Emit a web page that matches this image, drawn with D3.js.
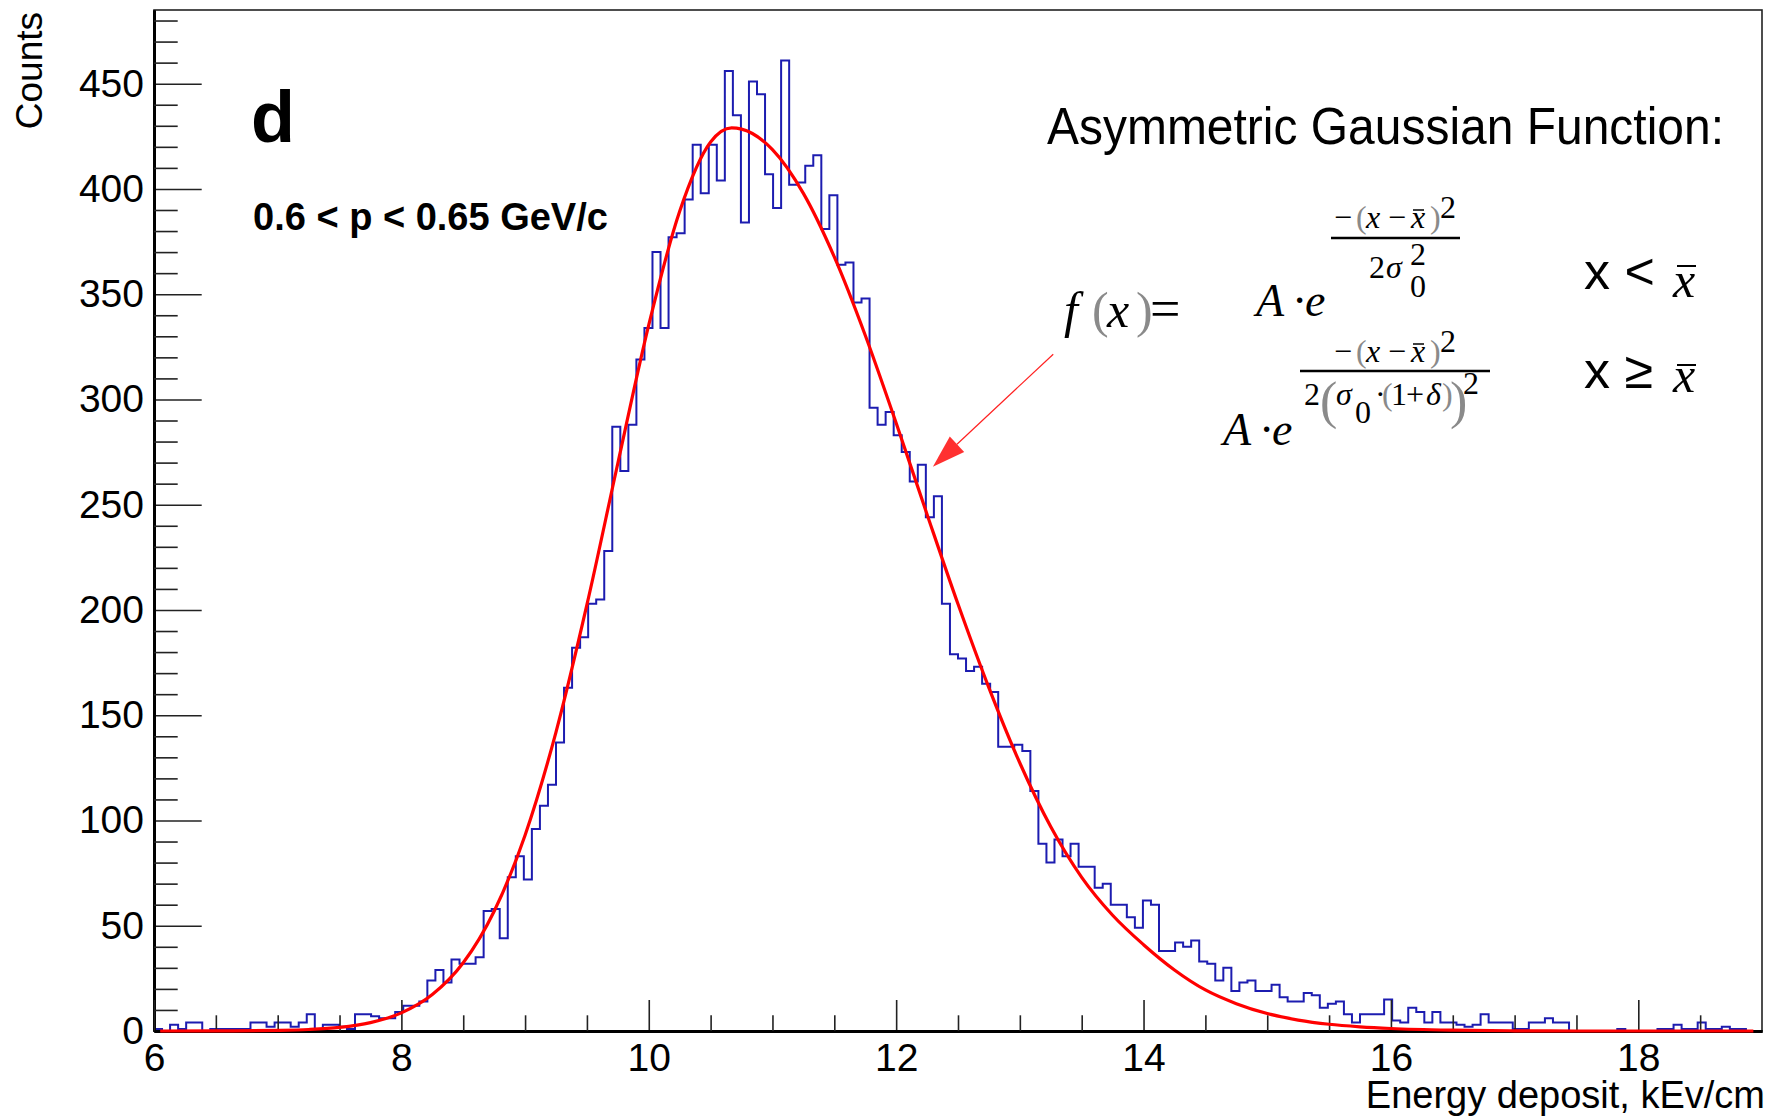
<!DOCTYPE html>
<html>
<head>
<meta charset="utf-8">
<script src="https://cdn.jsdelivr.net/npm/d3@7"></script>
<style>
  body { margin: 0; background: #fff; }
  svg { display: block; font-family: "Liberation Sans", Arial, sans-serif; }
</style>
</head>
<body>
<svg id="chart" width="1773" height="1118"></svg>
<script>
// histogram: 200 bins of 0.065 from 6 to 19
const binStart = 6;
const binWidth = 0.065;
const binCounts = [
  1, 0, 3, 1, 4, 4, 0, 1, 1, 1,
  1, 1, 4, 4, 2, 4, 4, 2, 4, 8,
  1, 3, 3, 2, 1, 8, 8, 7, 6, 6,
  9, 12, 12, 14, 24, 29, 23, 34, 32, 32,
  35, 57, 58, 44, 73, 83, 72, 96, 107, 117,
  137, 163, 182, 187, 203, 205, 228, 287, 266, 288,
  319, 334, 370, 334, 377, 379, 395, 421, 398, 421,
  404, 456, 435, 384, 451, 445, 407, 391, 461, 402,
  403, 411, 416, 381, 397, 364, 365, 346, 348, 296,
  288, 294, 283, 275, 261, 269, 244, 254, 203, 179,
  177, 171, 173, 165, 161, 135, 135, 136, 133, 114,
  89, 80, 91, 83, 89, 78, 78, 68, 70, 60,
  60, 54, 49, 62, 60, 38, 38, 42, 40, 43,
  33, 32, 24, 30, 19, 23, 24, 19, 19, 22,
  16, 14, 14, 18, 17, 11, 13, 14, 8, 4,
  8, 8, 8, 15, 5, 4, 11, 9, 4, 9,
  4, 4, 3, 2, 3, 8, 4, 4, 4, 1,
  1, 4, 4, 6, 4, 4, 0, 0, 0, 0,
  0, 0, 1, 0, 0, 0, 0, 1, 1, 3,
  1, 1, 4, 1, 1, 2, 1, 1, 0, 0
];

// fitted asymmetric gaussian
const fitX = [6.05, 6.5, 7.0, 7.25, 7.5, 7.75, 8.0, 8.25, 8.5, 8.75,
  9.0, 9.25, 9.5, 9.75, 10.0, 10.25, 10.5, 10.67, 10.75, 11.0,
  11.25, 11.5, 11.75, 12.0, 12.25, 12.5, 12.75, 13.0, 13.25, 13.5,
  13.75, 14.0, 14.25, 14.5, 14.75, 15.0, 15.25, 15.5, 15.75, 16.0,
  16.5, 17.0, 17.5, 18.0, 18.93];
const fitY = [0, 0.03, 0.3, 0.7, 1.7, 4.0, 8.6, 17.3, 32.4, 56.9,
  93, 142, 202.5, 269.7, 335.4, 389.4, 422.3, 429, 428.4, 418.7,
  397.9, 367.7, 330.5, 288.8, 245.4, 202.8, 163, 127.3, 97, 73,
  55, 41, 29, 19.5, 13, 8.3, 5.2, 3.2, 2, 1.2,
  0.4, 0.1, 0, 0, 0];

const xTickLabels = [6, 8, 10, 12, 14, 16, 18];
const yTickLabels = [0, 50, 100, 150, 200, 250, 300, 350, 400, 450];
const xDomain = [6, 19];
const yDomain = [0, 485];

// arrow annotation, in data units
const arrowTail = [13.27, 321.5];
const arrowTip = [12.297, 268];

const svg = d3.select("#chart");
svg.append("rect").attr("width", 1773).attr("height", 1118).attr("fill", "#fff");

const padL = 154, padR = 1762, padT = 10, padB = 1031;

const x = d3.scaleLinear().domain(xDomain).range([padL, padR]);
const y = d3.scaleLinear().domain(yDomain).range([padB, padT]);

//=== frame ===
svg.append("rect")
  .attr("x", padL).attr("y", padT)
  .attr("width", padR - padL).attr("height", padB - padT)
  .attr("fill", "none").attr("stroke", "#222").attr("stroke-width", 1.6);

//=== histogram ===
const steps = [[binStart, 0]];
binCounts.forEach((c, i) => steps.push([binStart + i * binWidth, c]));
steps.push([xDomain[1], binCounts[binCounts.length - 1]]);
steps.push([xDomain[1], 0]);

svg.append("path")
  .datum(steps)
  .attr("fill", "none")
  .attr("stroke", "#1c1cb0")
  .attr("stroke-width", 2)
  .attr("d", d3.line().x(d => x(d[0])).y(d => y(d[1])).curve(d3.curveStepAfter));

//=== axes ===
const axisFont = 39;

const yMajor = svg.append("g")
  .attr("transform", `translate(${padL},0)`)
  .call(d3.axisLeft(y).tickValues(yTickLabels).tickSize(-47.7).tickSizeOuter(0)
    .tickPadding(10).tickFormat(d3.format("d")));
const yMinor = svg.append("g")
  .attr("transform", `translate(${padL},0)`)
  .call(d3.axisLeft(y).tickValues(d3.range(0, 481, 10).filter(v => v % 50))
    .tickSize(-23.7).tickSizeOuter(0).tickFormat(""));

const xMajor = svg.append("g")
  .attr("transform", `translate(0,${padB})`)
  .call(d3.axisBottom(x).tickValues(xTickLabels).tickSize(-31).tickSizeOuter(0)
    .tickPadding(12).tickFormat(d3.format("d")));
const xMinor = svg.append("g")
  .attr("transform", `translate(0,${padB})`)
  .call(d3.axisBottom(x).tickValues(d3.range(6.5, 19, 0.5).filter(v => v % 2))
    .tickSize(-15.7).tickSizeOuter(0).tickFormat(""));

[yMajor, yMinor, xMajor, xMinor].forEach(g => {
  g.selectAll(".domain").attr("stroke", "#000").attr("stroke-width", 3);
  g.selectAll(".tick line").attr("stroke", "#222").attr("stroke-width", 1.6);
  g.selectAll("text").attr("font-size", axisFont)
    .attr("font-family", "Liberation Sans, Arial, sans-serif").attr("fill", "#000");
});
[yMinor, xMinor].forEach(g => g.selectAll("text").remove());

//=== fit ===
svg.append("path")
  .datum(fitX.map((v, i) => [v, fitY[i]]))
  .attr("fill", "none")
  .attr("stroke", "#ff0000")
  .attr("stroke-width", 3.2)
  .attr("d", d3.line().x(d => x(d[0])).y(d => y(d[1])).curve(d3.curveMonotoneX));

//=== axis titles ===
svg.append("text")
  .attr("transform", "translate(42,12) rotate(-90)")
  .attr("text-anchor", "end")
  .attr("font-size", 37)
  .text("Counts");

svg.append("text")
  .attr("x", 1765).attr("y", 1108)
  .attr("text-anchor", "end")
  .attr("font-size", 38)
  .text("Energy deposit, kEv/cm");

//=== labels ===
svg.append("text")
  .attr("x", 251).attr("y", 142)
  .attr("font-size", 72).attr("font-weight", "bold")
  .text("d");

svg.append("text")
  .attr("x", 253).attr("y", 230)
  .attr("font-size", 38).attr("font-weight", "bold")
  .text("0.6 < p < 0.65 GeV/c");

svg.append("text")
  .attr("x", 1047).attr("y", 144)
  .attr("font-size", 52)
  .attr("textLength", 677)
  .attr("lengthAdjust", "spacingAndGlyphs")
  .text("Asymmetric Gaussian Function:");

//=== formula ===
const serif = "Liberation Serif, Times New Roman, serif";
function put(str, px, py, size, opts = {}) {
  svg.append("text")
    .attr("x", px).attr("y", py)
    .attr("font-family", opts.sans ? "Liberation Sans, Arial, sans-serif" : serif)
    .attr("font-size", size)
    .attr("font-style", opts.italic ? "italic" : "normal")
    .attr("fill", opts.fill || "#000")
    .text(str);
}
function bar(x1, x2, yy, w) {
  svg.append("line").attr("x1", x1).attr("x2", x2).attr("y1", yy).attr("y2", yy)
    .attr("stroke", "#000").attr("stroke-width", w || 2);
}
const grey = "#8a8a8a";

// f(x) =
put("f", 1064, 327, 50, { italic: true });
put("(", 1092, 327, 50, { fill: grey });
put("x", 1107, 327, 50, { italic: true });
put(")", 1136, 327, 50, { fill: grey });
put("=", 1150, 327, 54);

// numerator, both rows
function numerator(baseY) {
  put("\u2212", 1334, baseY, 32);
  put("(", 1356, baseY, 32, { fill: grey });
  put("x", 1366, baseY, 32, { italic: true });
  put("\u2212", 1388, baseY, 32);
  put("x", 1411, baseY, 32, { italic: true });
  bar(1413, 1424, baseY - 18, 1.5);
  put(")", 1430, baseY, 32, { fill: grey });
  put("2", 1440, baseY - 10, 32);
}

// row 1
put("A", 1256, 316, 46, { italic: true });
put("\u00b7", 1292, 316, 46);
put("e", 1305, 316, 46, { italic: true });
numerator(228);
bar(1331, 1460, 238, 2.4);
put("2", 1369, 278, 32);
put("\u03c3", 1386, 278, 32, { italic: true });
put("2", 1410, 265, 32);
put("0", 1410, 297, 32);
put("x <", 1584, 289, 52, { sans: true });
put("x", 1673, 297, 50, { italic: true });
bar(1677, 1696, 266, 2);

// row 2
put("A", 1223, 445, 46, { italic: true });
put("\u00b7", 1259, 445, 46);
put("e", 1272, 445, 46, { italic: true });
numerator(362);
bar(1300, 1490, 371, 2.4);
put("2", 1304, 405, 32);
put("(", 1320, 418, 52, { fill: grey });
put("\u03c3", 1336, 405, 32, { italic: true });
put("0", 1355, 423, 32);
put("\u00b7", 1375, 405, 32);
put("(", 1382, 405, 32, { fill: grey });
put("1", 1391, 405, 32);
put("+", 1406, 405, 32);
put("\u03b4", 1426, 405, 32, { italic: true });
put(")", 1442, 405, 32, { fill: grey });
put(")", 1450, 418, 52, { fill: grey });
put("2", 1463, 394, 32);
put("x \u2265", 1584, 388, 52, { sans: true });
put("x", 1673, 392, 50, { italic: true });
bar(1677, 1696, 365, 2);

//=== arrow ===
const tipX = x(arrowTip[0]), tipY = y(arrowTip[1]);
const tailX = x(arrowTail[0]), tailY = y(arrowTail[1]);
const len = Math.hypot(tailX - tipX, tailY - tipY);
const ux = (tailX - tipX) / len, uy = (tailY - tipY) / len;
const headLen = 33, headHalf = 10.5;
const baseX = tipX + ux * headLen, baseY = tipY + uy * headLen;
svg.append("line")
  .attr("x1", tailX).attr("y1", tailY).attr("x2", baseX).attr("y2", baseY)
  .attr("stroke", "#ff2020").attr("stroke-width", 1.2);
svg.append("path")
  .attr("d", `M${tipX},${tipY}L${baseX - uy * headHalf},${baseY + ux * headHalf}L${baseX + uy * headHalf},${baseY - ux * headHalf}Z`)
  .attr("fill", "#ff3030");
</script>
</body>
</html>
